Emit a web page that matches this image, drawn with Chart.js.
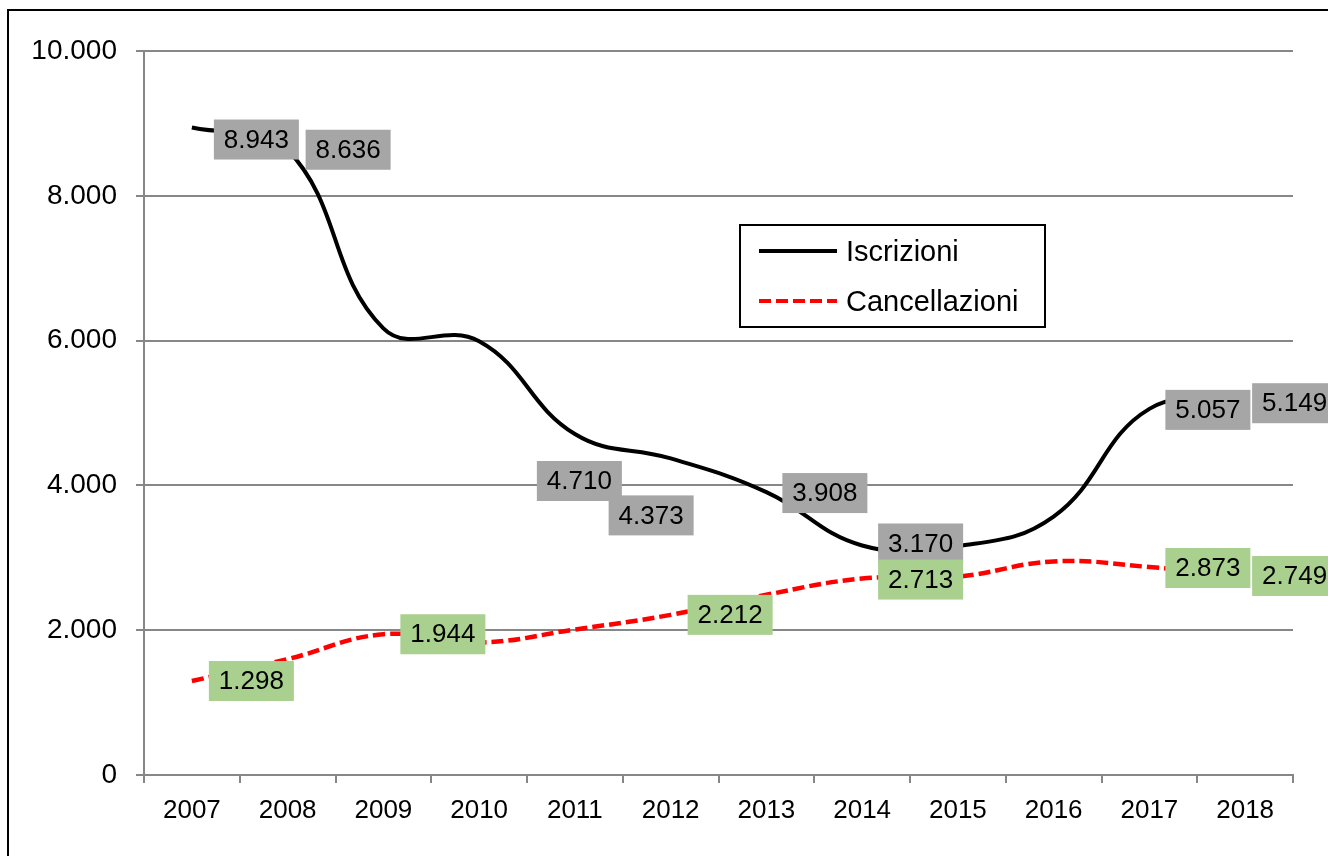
<!DOCTYPE html>
<html>
<head>
<meta charset="utf-8">
<script src="https://cdn.jsdelivr.net/npm/chart.js@4.4.1/dist/chart.umd.min.js"></script>
<style>
html,body{margin:0;padding:0;background:#ffffff;}
#wrap{width:1328px;height:856px;position:relative;}
canvas{display:block;}
</style>
</head>
<body>
<div id="wrap"><canvas id="c" width="1328" height="856"></canvas></div>
<script>
// ---- data ----
const years = ['2007','2008','2009','2010','2011','2012','2013','2014','2015','2016','2017','2018'];
const iscrizioni = [8943, 8636, 6170, 5990, 4710, 4373, 3908, 3170, 3160, 3570, 5057, 5149];
const cancellazioni = [1298, 1600, 1944, 1830, 2010, 2212, 2490, 2713, 2740, 2950, 2873, 2749];
const seriesNames = ['Iscrizioni', 'Cancellazioni'];
const iscrizioniLabelled = [0, 1, 4, 5, 6, 7, 10, 11];
const cancellazioniLabelled = [0, 2, 5, 7, 10, 11];
const yTicks = [0, 2000, 4000, 6000, 8000, 10000];

// ---- presentation ----
const FONT = '"Liberation Sans", Arial, sans-serif';
const GRID = '#878787';
function fmt(v) { return String(v).replace(/\B(?=(\d{3})+(?!\d))/g, '.'); }

// label placement (offsets relative to the point: left edge dx, vertical centre dy)
const labelPlacement = [
  {0:[22,12], 1:[18,0], 4:[-38,47], 5:[-62,57], 6:[16,1], 7:[16,-2], 10:[16,1], 11:[7,1]},
  {0:[17,0], 2:[17,0], 5:[17,0], 7:[16,1], 10:[16,1], 11:[7,0]}
];
const labelFill = ['#a6a6a6', '#a9d08e'];
const labelled = [iscrizioniLabelled, cancellazioniLabelled];

const dataLabelPlugin = {
  id: 'dataLabels',
  afterDatasetsDraw(chart) {
    const ctx = chart.ctx;
    ctx.save();
    ctx.font = '26px ' + FONT;
    ctx.textAlign = 'center';
    ctx.textBaseline = 'middle';
    chart.data.datasets.forEach((ds, di) => {
      const meta = chart.getDatasetMeta(di);
      labelled[di].forEach(i => {
        const pt = meta.data[i];
        const off = labelPlacement[di][i] || [16, 0];
        const w = 85, h = 40;
        const x0 = pt.x + off[0];
        const cy = pt.y + off[1];
        ctx.fillStyle = labelFill[di];
        ctx.fillRect(x0, cy - h / 2, w, h);
        ctx.fillStyle = '#000';
        ctx.fillText(fmt(ds.data[i]), x0 + w / 2, cy + 1);
      });
    });
    ctx.restore();
  }
};

const legendPlugin = {
  id: 'boxLegend',
  afterDraw(chart) {
    const ctx = chart.ctx;
    ctx.save();
    const bx = 740, by = 225, bw = 305, bh = 102;
    ctx.fillStyle = '#fff';
    ctx.fillRect(bx, by, bw, bh);
    ctx.strokeStyle = '#000';
    ctx.lineWidth = 2;
    ctx.strokeRect(bx, by, bw, bh);
    chart.data.datasets.forEach((ds, i) => {
      const y = 251 + i * 50;
      ctx.beginPath();
      ctx.strokeStyle = ds.borderColor;
      ctx.lineWidth = 4;
      ctx.setLineDash(ds.borderDash || []);
      ctx.moveTo(759, y);
      ctx.lineTo(837, y);
      ctx.stroke();
      ctx.setLineDash([]);
      ctx.fillStyle = '#000';
      ctx.font = '29px ' + FONT;
      ctx.textAlign = 'left';
      ctx.textBaseline = 'middle';
      ctx.fillText(ds.label, 846, y + 2);
    });
    // outer frame
    ctx.strokeStyle = '#000';
    ctx.lineWidth = 2;
    ctx.strokeRect(8, 10, 2000, 2000);
    ctx.restore();
  }
};

new Chart(document.getElementById('c'), {
  type: 'line',
  data: {
    labels: years,
    datasets: [
      {
        label: seriesNames[0], data: iscrizioni,
        borderColor: '#000000', borderWidth: 4, tension: 0.42,
        pointRadius: 0, fill: false
      },
      {
        label: seriesNames[1], data: cancellazioni,
        borderColor: '#ff0000', borderWidth: 4.5, borderDash: [12, 5], tension: 0.42,
        pointRadius: 0, fill: false
      }
    ]
  },
  options: {
    responsive: false,
    animation: false,
    devicePixelRatio: 1,
    layout: { padding: { top: 51, right: 35, left: 0, bottom: 0 } },
    plugins: { legend: { display: false }, tooltip: { enabled: false } },
    scales: {
      x: {
        type: 'category',
        offset: true,
        grid: { display: true, offset: true, drawOnChartArea: false, drawTicks: true, tickLength: 8, color: GRID, lineWidth: 2 },
        border: { display: true, color: GRID, width: 2 },
        ticks: { color: '#000', font: { family: FONT, size: 26 }, padding: 12, maxRotation: 0, autoSkip: false },
        afterFit(s) { s.height = 81; }
      },
      y: {
        min: 0, max: 10000,
        grid: { color: GRID, lineWidth: 2, tickLength: 8, drawTicks: true },
        border: { display: true, color: GRID, width: 2 },
        ticks: { color: '#000', font: { family: FONT, size: 28 }, padding: 19, callback: v => fmt(v) },
        afterBuildTicks(s) { s.ticks = yTicks.map(v => ({ value: v })); },
        afterFit(s) { s.width = 144; }
      }
    }
  },
  plugins: [dataLabelPlugin, legendPlugin]
});
</script>
</body>
</html>
